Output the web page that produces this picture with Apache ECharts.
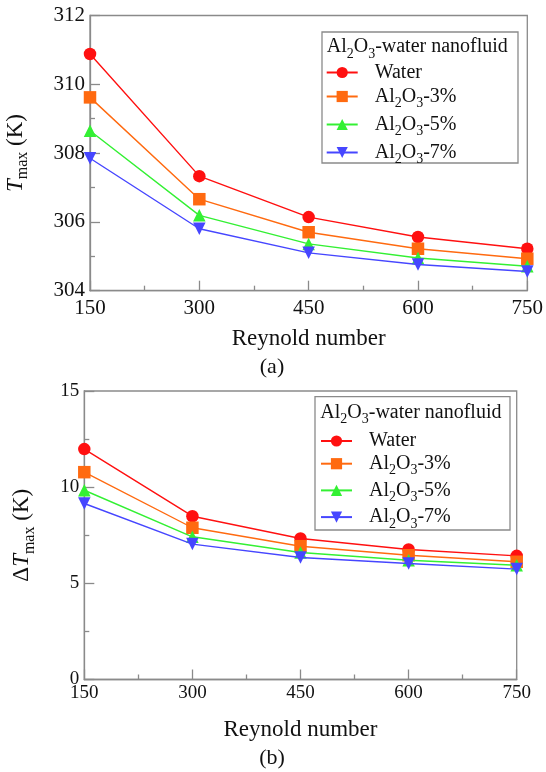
<!DOCTYPE html>
<html>
<head>
<meta charset="utf-8">
<script src="https://cdn.jsdelivr.net/npm/echarts@6/dist/echarts.min.js"></script>
<style>
html,body{margin:0;padding:0;background:#fff;}
#c{width:546px;height:772px;}
</style>
</head>
<body>
<div id="c"></div>
<script>
// ---- data ----
const reynolds = [150, 300, 450, 600, 750];
const seriesNames = ['Water', 'Al2O3-3%', 'Al2O3-5%', 'Al2O3-7%'];
// (a) Tmax (K)
const tmaxWater = [310.88, 307.33, 306.14, 305.56, 305.22];
const tmax3 = [309.62, 306.66, 305.70, 305.22, 304.93];
const tmax5 = [308.65, 306.19, 305.36, 304.95, 304.71];
const tmax7 = [307.85, 305.80, 305.10, 304.76, 304.56];
// (b) delta Tmax (K)
const dtWater = [11.98, 8.49, 7.33, 6.76, 6.43];
const dt3 = [10.78, 7.89, 6.93, 6.46, 6.12];
const dt5 = [9.84, 7.42, 6.60, 6.20, 5.94];
const dt7 = [9.15, 7.04, 6.34, 6.03, 5.74];

const FONT = "'Liberation Serif','Times New Roman',serif";
const colors = ['#ff1010', '#ff6a10', '#33f033', '#4646ff'];
const symbols = ['circle', 'rect', 'triangle', 'path://M0,0 L10,0 L5,9 Z'];

const chart = echarts.init(document.getElementById('c'), null, {renderer: 'canvas'});

function pair(vals) { return reynolds.map((r, i) => [r, vals[i]]); }

const legRich = {
  g: {width: 12, fontSize: 20, fontFamily: FONT, lineHeight: 24},
  n: {fontSize: 20, fontFamily: FONT, color: '#111', lineHeight: 24},
  s: {fontSize: 14, fontFamily: FONT, color: '#111', lineHeight: 10, padding: [14, 0, 0, 0]}
};
function legFmt(name) {
  if (name === 'Water') return '{g|}{n|Water}';
  const pct = name.split('-')[1];
  return '{g|}{n|Al}{s|2}{n|O}{s|3}{n|-' + pct + '}';
}
const titleRich = {
  n: {fontSize: 20, fontFamily: FONT, fill: '#111', lineHeight: 24},
  s: {fontSize: 14, fontFamily: FONT, fill: '#111', lineHeight: 10, padding: [14, 0, 0, 0]}
};

function makeSeries(data, gi) {
  return data.map((d, k) => ({
    name: seriesNames[k],
    type: 'line',
    xAxisIndex: gi, yAxisIndex: gi,
    data: pair(d),
    symbol: symbols[k],
    symbolSize: 12.5,
    showAllSymbol: true,
    color: colors[k],
    lineStyle: {color: colors[k], width: 1.4},
    itemStyle: {color: colors[k]},
    z: 3 + k
  }));
}

function xAxisCfg(gi, fs, margin, nameGap) {
  return {
    type: 'value', gridIndex: gi, min: 150, max: 750, interval: 150,
    name: 'Reynold number', nameLocation: 'middle', nameGap: nameGap,
    nameTextStyle: {fontSize: 23, fontFamily: FONT, color: '#111'},
    axisLine: {show: true, lineStyle: {color: '#8a8a8a', width: 1.3}},
    axisTick: {show: true, inside: true, length: 10, lineStyle: {color: '#8a8a8a', width: 1.3}},
    minorTick: {show: true, splitNumber: 2, length: 5, lineStyle: {color: '#8a8a8a', width: 1.3}},
    axisLabel: {fontSize: fs, fontFamily: FONT, color: '#111', margin: margin},
    splitLine: {show: false}
  };
}

function yAxisCfg(gi, min, max, interval, fs, nameText, nameRich, nameGap) {
  return {
    type: 'value', gridIndex: gi, min: min, max: max, interval: interval,
    name: nameText, nameLocation: 'middle', nameRotate: 90, nameGap: nameGap,
    nameTextStyle: {fontSize: 23, fontFamily: FONT, color: '#111', rich: nameRich},
    axisLine: {show: true, lineStyle: {color: '#8a8a8a', width: 1.3}},
    axisTick: {show: true, inside: true, length: 10, lineStyle: {color: '#8a8a8a', width: 1.3}},
    minorTick: {show: true, splitNumber: 2, length: 5, lineStyle: {color: '#8a8a8a', width: 1.3}},
    axisLabel: {fontSize: fs, fontFamily: FONT, color: '#111', margin: 5},
    splitLine: {show: false}
  };
}

const nameRich = {
  i: {fontSize: 23, fontFamily: FONT, fontStyle: 'italic', color: '#111', lineHeight: 26},
  n: {fontSize: 23, fontFamily: FONT, color: '#111', lineHeight: 26},
  s: {fontSize: 16, fontFamily: FONT, color: '#111', lineHeight: 12, padding: [14, 0, 0, 0]}
};

const option = {
  animation: false,
  backgroundColor: '#fff',
  grid: [
    {left: 90, top: 15.5, width: 437.3, height: 275.2, show: true, borderColor: '#8a8a8a', borderWidth: 1.3, containLabel: false, outerBoundsMode: 'none'},
    {left: 84.3, top: 391, width: 432.4, height: 288.5, show: true, borderColor: '#8a8a8a', borderWidth: 1.3, containLabel: false, outerBoundsMode: 'none'}
  ],
  xAxis: [xAxisCfg(0, 21, 7, 36.5), xAxisCfg(1, 19, 4.5, 39)],
  yAxis: [
    yAxisCfg(0, 304, 312, 2, 21, '{i|T}{s|max}{n| (K)}', nameRich, 61),
    yAxisCfg(1, 0, 15, 5, 19, '{n|Δ}{i|T}{s|max}{n| (K)}', nameRich, 49)
  ],
  legend: [
    {data: seriesNames, orient: 'vertical', left: 325.7, top: 62.5, padding: 0,
     itemWidth: 31, itemHeight: 14, itemGap: 0, formatter: legFmt,
     textStyle: {fontSize: 20, fontFamily: FONT, color: '#111', rich: legRich}, z: 10},
    {data: seriesNames, orient: 'vertical', left: 320, top: 431, padding: 0,
     itemWidth: 31, itemHeight: 14, itemGap: -1.3, formatter: legFmt,
     textStyle: {fontSize: 20, fontFamily: FONT, color: '#111', rich: legRich}, z: 10}
  ],
  graphic: [
    {type: 'rect', shape: {x: 322, y: 32, width: 196, height: 131}, style: {fill: '#fff', stroke: '#8a8a8a', lineWidth: 1.3}, z: 5},
    {type: 'text', x: 326.7, y: 47, z: 11, style: {text: '{n|Al}{s|2}{n|O}{s|3}{n|-water nanofluid}', rich: titleRich, verticalAlign: 'middle', align: 'left'}},
    {type: 'rect', shape: {x: 315, y: 396.7, width: 195, height: 133.3}, style: {fill: '#fff', stroke: '#8a8a8a', lineWidth: 1.3}, z: 5},
    {type: 'text', x: 320.3, y: 412.7, z: 11, style: {text: '{n|Al}{s|2}{n|O}{s|3}{n|-water nanofluid}', rich: titleRich, verticalAlign: 'middle', align: 'left'}},
    {type: 'text', x: 272, y: 367, z: 11, style: {text: '(a)', font: "22px 'Liberation Serif','Times New Roman',serif", fill: '#111', align: 'center', verticalAlign: 'middle'}},
    {type: 'text', x: 272, y: 758, z: 11, style: {text: '(b)', font: "22px 'Liberation Serif','Times New Roman',serif", fill: '#111', align: 'center', verticalAlign: 'middle'}}
  ],
  series: [].concat(
    makeSeries([tmaxWater, tmax3, tmax5, tmax7], 0),
    makeSeries([dtWater, dt3, dt5, dt7], 1)
  )
};
chart.setOption(option);
</script>
</body>
</html>
